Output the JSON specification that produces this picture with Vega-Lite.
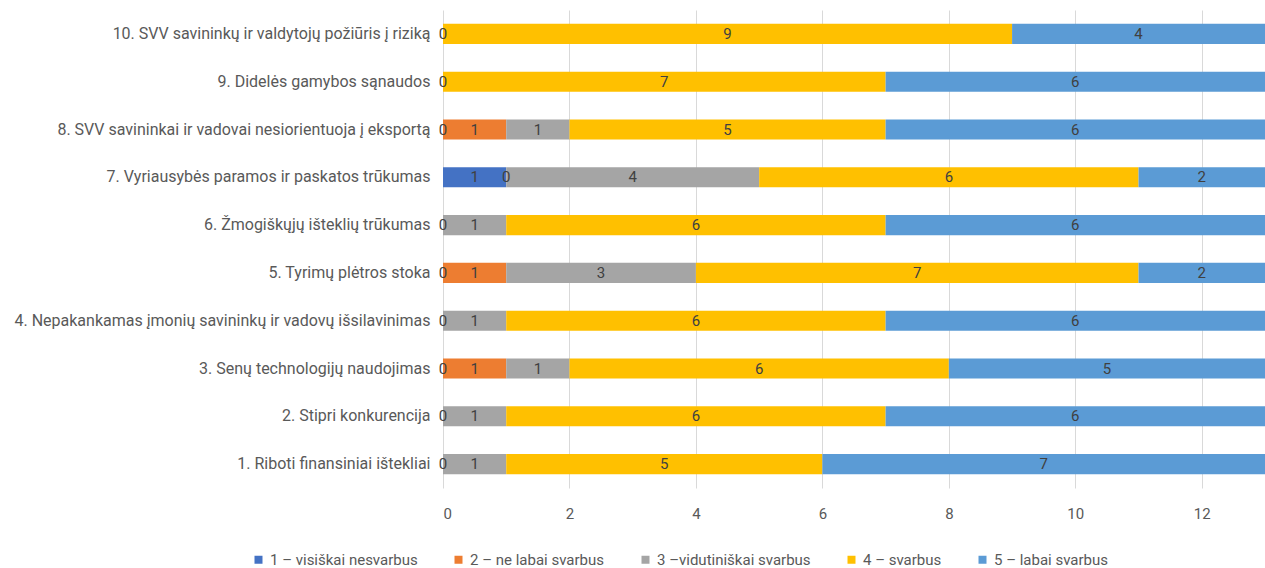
{
  "$schema": "https://vega.github.io/schema/vega-lite/v6.json",
  "width": 822,
  "height": 478,
  "autosize": {"type": "none"},
  "padding": {"left": 443, "top": 10, "right": 0, "bottom": 80},
  "background": "white",
  "config": {
    "view": {"stroke": null},
    "font": "Roboto"
  },
  "data": {
    "values": [
      {"cat": "10. SVV savininkų ir valdytojų požiūris į riziką", "s": "1 – visiškai nesvarbus", "o": 1, "v": 0},
      {"cat": "10. SVV savininkų ir valdytojų požiūris į riziką", "s": "4 – svarbus", "o": 4, "v": 9},
      {"cat": "10. SVV savininkų ir valdytojų požiūris į riziką", "s": "5 – labai svarbus", "o": 5, "v": 4},
      {"cat": "9. Didelės gamybos sąnaudos", "s": "1 – visiškai nesvarbus", "o": 1, "v": 0},
      {"cat": "9. Didelės gamybos sąnaudos", "s": "4 – svarbus", "o": 4, "v": 7},
      {"cat": "9. Didelės gamybos sąnaudos", "s": "5 – labai svarbus", "o": 5, "v": 6},
      {"cat": "8. SVV savininkai ir vadovai nesiorientuoja į eksportą", "s": "1 – visiškai nesvarbus", "o": 1, "v": 0},
      {"cat": "8. SVV savininkai ir vadovai nesiorientuoja į eksportą", "s": "2 – ne labai svarbus", "o": 2, "v": 1},
      {"cat": "8. SVV savininkai ir vadovai nesiorientuoja į eksportą", "s": "3 –vidutiniškai svarbus", "o": 3, "v": 1},
      {"cat": "8. SVV savininkai ir vadovai nesiorientuoja į eksportą", "s": "4 – svarbus", "o": 4, "v": 5},
      {"cat": "8. SVV savininkai ir vadovai nesiorientuoja į eksportą", "s": "5 – labai svarbus", "o": 5, "v": 6},
      {"cat": "7. Vyriausybės paramos ir paskatos trūkumas", "s": "1 – visiškai nesvarbus", "o": 1, "v": 1},
      {"cat": "7. Vyriausybės paramos ir paskatos trūkumas", "s": "2 – ne labai svarbus", "o": 2, "v": 0},
      {"cat": "7. Vyriausybės paramos ir paskatos trūkumas", "s": "3 –vidutiniškai svarbus", "o": 3, "v": 4},
      {"cat": "7. Vyriausybės paramos ir paskatos trūkumas", "s": "4 – svarbus", "o": 4, "v": 6},
      {"cat": "7. Vyriausybės paramos ir paskatos trūkumas", "s": "5 – labai svarbus", "o": 5, "v": 2},
      {"cat": "6. Žmogiškųjų išteklių trūkumas", "s": "1 – visiškai nesvarbus", "o": 1, "v": 0},
      {"cat": "6. Žmogiškųjų išteklių trūkumas", "s": "3 –vidutiniškai svarbus", "o": 3, "v": 1},
      {"cat": "6. Žmogiškųjų išteklių trūkumas", "s": "4 – svarbus", "o": 4, "v": 6},
      {"cat": "6. Žmogiškųjų išteklių trūkumas", "s": "5 – labai svarbus", "o": 5, "v": 6},
      {"cat": "5. Tyrimų plėtros stoka", "s": "1 – visiškai nesvarbus", "o": 1, "v": 0},
      {"cat": "5. Tyrimų plėtros stoka", "s": "2 – ne labai svarbus", "o": 2, "v": 1},
      {"cat": "5. Tyrimų plėtros stoka", "s": "3 –vidutiniškai svarbus", "o": 3, "v": 3},
      {"cat": "5. Tyrimų plėtros stoka", "s": "4 – svarbus", "o": 4, "v": 7},
      {"cat": "5. Tyrimų plėtros stoka", "s": "5 – labai svarbus", "o": 5, "v": 2},
      {"cat": "4. Nepakankamas įmonių savininkų ir vadovų išsilavinimas", "s": "1 – visiškai nesvarbus", "o": 1, "v": 0},
      {"cat": "4. Nepakankamas įmonių savininkų ir vadovų išsilavinimas", "s": "3 –vidutiniškai svarbus", "o": 3, "v": 1},
      {"cat": "4. Nepakankamas įmonių savininkų ir vadovų išsilavinimas", "s": "4 – svarbus", "o": 4, "v": 6},
      {"cat": "4. Nepakankamas įmonių savininkų ir vadovų išsilavinimas", "s": "5 – labai svarbus", "o": 5, "v": 6},
      {"cat": "3. Senų technologijų naudojimas", "s": "1 – visiškai nesvarbus", "o": 1, "v": 0},
      {"cat": "3. Senų technologijų naudojimas", "s": "2 – ne labai svarbus", "o": 2, "v": 1},
      {"cat": "3. Senų technologijų naudojimas", "s": "3 –vidutiniškai svarbus", "o": 3, "v": 1},
      {"cat": "3. Senų technologijų naudojimas", "s": "4 – svarbus", "o": 4, "v": 6},
      {"cat": "3. Senų technologijų naudojimas", "s": "5 – labai svarbus", "o": 5, "v": 5},
      {"cat": "2. Stipri konkurencija", "s": "1 – visiškai nesvarbus", "o": 1, "v": 0},
      {"cat": "2. Stipri konkurencija", "s": "3 –vidutiniškai svarbus", "o": 3, "v": 1},
      {"cat": "2. Stipri konkurencija", "s": "4 – svarbus", "o": 4, "v": 6},
      {"cat": "2. Stipri konkurencija", "s": "5 – labai svarbus", "o": 5, "v": 6},
      {"cat": "1. Riboti finansiniai ištekliai", "s": "1 – visiškai nesvarbus", "o": 1, "v": 0},
      {"cat": "1. Riboti finansiniai ištekliai", "s": "3 –vidutiniškai svarbus", "o": 3, "v": 1},
      {"cat": "1. Riboti finansiniai ištekliai", "s": "4 – svarbus", "o": 4, "v": 5},
      {"cat": "1. Riboti finansiniai ištekliai", "s": "5 – labai svarbus", "o": 5, "v": 7}
    ]
  },
  "transform": [
    {"stack": "v", "groupby": ["cat"], "sort": [{"field": "o", "order": "ascending"}], "as": ["x0", "x1"]}
  ],
  "encoding": {
    "y": {
      "field": "cat",
      "type": "nominal",
      "sort": [
        "10. SVV savininkų ir valdytojų požiūris į riziką",
        "9. Didelės gamybos sąnaudos",
        "8. SVV savininkai ir vadovai nesiorientuoja į eksportą",
        "7. Vyriausybės paramos ir paskatos trūkumas",
        "6. Žmogiškųjų išteklių trūkumas",
        "5. Tyrimų plėtros stoka",
        "4. Nepakankamas įmonių savininkų ir vadovų išsilavinimas",
        "3. Senų technologijų naudojimas",
        "2. Stipri konkurencija",
        "1. Riboti finansiniai ištekliai"
      ],
      "scale": {"paddingInner": 0.58, "paddingOuter": 0.29},
      "axis": {
        "title": null,
        "domain": false,
        "ticks": false,
        "grid": false,
        "labelPadding": 13,
        "labelFontSize": 16,
        "labelColor": "#595959",
        "labelLimit": 500
      }
    }
  },
  "layer": [
    {
      "mark": {"type": "bar"},
      "encoding": {
        "x": {
          "field": "x0",
          "type": "quantitative",
          "scale": {"domain": [0, 13], "nice": false},
          "axis": {
            "title": null,
            "values": [0, 2, 4, 6, 8, 10, 12],
            "format": "d",
            "domain": false,
            "ticks": false,
            "grid": true,
            "gridColor": "#d9d9d9",
            "gridWidth": 1,
            "labelFontSize": 15,
            "labelColor": "#595959",
            "labelPadding": 18
          }
        },
        "x2": {"field": "x1"},
        "color": {
          "field": "s",
          "type": "nominal",
          "scale": {
            "domain": ["1 – visiškai nesvarbus", "2 – ne labai svarbus", "3 –vidutiniškai svarbus", "4 – svarbus", "5 – labai svarbus"],
            "range": ["#4472C4", "#ED7D31", "#A5A5A5", "#FFC000", "#5B9BD5"]
          },
          "legend": {
            "title": null,
            "orient": "none",
            "direction": "horizontal",
            "legendX": -192,
            "legendY": 542,
            "symbolType": "square",
            "symbolSize": 64,
            "symbolStrokeWidth": 0,
            "labelFontSize": 15,
            "labelColor": "#595959",
            "columnPadding": 33,
            "labelOffset": 4
          }
        }
      }
    },
    {
      "transform": [
        {"fold": ["x0", "x1"], "as": ["edge", "pos"]}
      ],
      "mark": {"type": "text", "fontSize": 15, "color": "#404040", "baseline": "middle", "align": "center"},
      "encoding": {
        "x": {"aggregate": "mean", "field": "pos", "type": "quantitative"},
        "text": {"field": "v", "type": "quantitative"},
        "detail": {"field": "s"}
      }
    }
  ]
}
